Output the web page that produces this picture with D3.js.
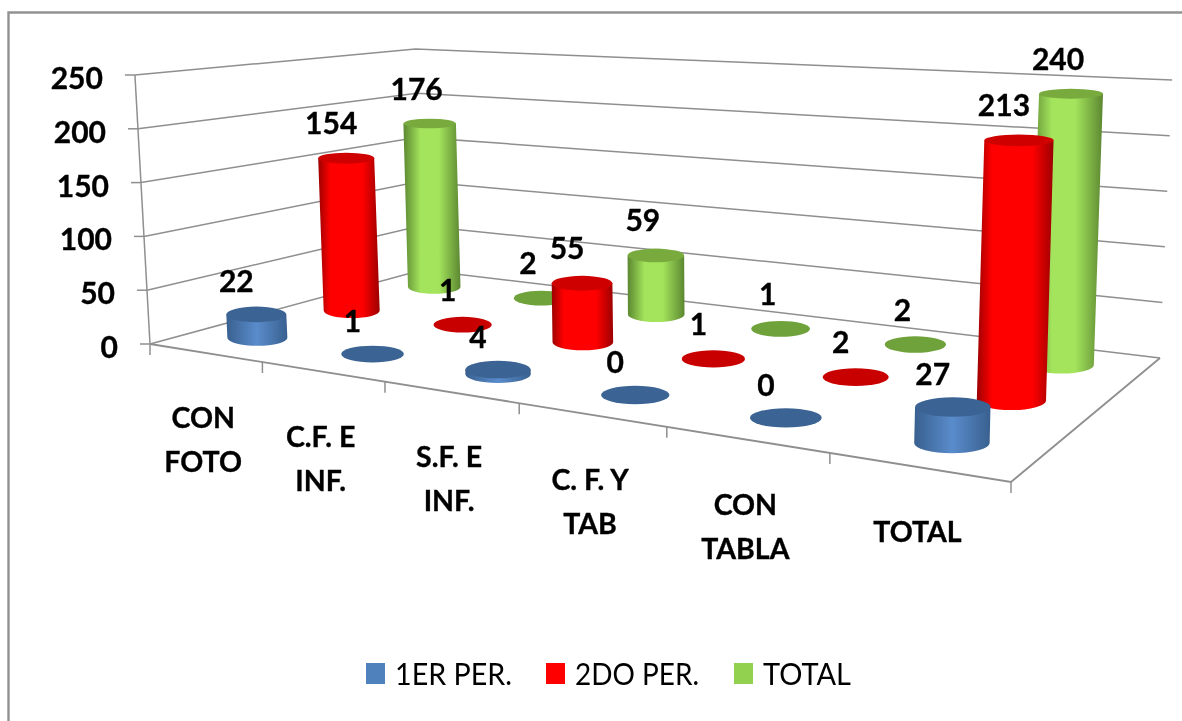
<!DOCTYPE html>
<html><head><meta charset="utf-8">
<script src="https://cdnjs.cloudflare.com/ajax/libs/d3/7.8.5/d3.min.js"></script>
<style>html,body{margin:0;padding:0;background:#fff}svg{display:block}text{font-family:Lato,"Open Sans",sans-serif;fill:#000}</style>
</head><body><svg id="c" width="1182" height="721"></svg>
<script>
const categories = [["CON","FOTO"],["C.F. E","INF."],["S.F. E","INF."],["C. F. Y","TAB"],["CON","TABLA"],["TOTAL"]];
const seriesNames = ["1ER PER.","2DO PER.","TOTAL"];
const firstPeriod = [22,1,4,0,0,27];
const secondPeriod = [154,1,55,1,2,213];
const totals = [176,2,59,1,2,240];
const yTicks = [0,50,100,150,200,250];

const svg = d3.select("#c");
const W = 1182, H = 721;

const seriesValues = [firstPeriod, secondPeriod, totals];
const palette = [
  {edge:"#38608f",mid:"#5a8ccc",top:"#3b6493",flat:"#3b6493",dx:-20,dy:-34,stops:[0.5,0.5]},
  {edge:"#9c0000",mid:"#ff0000",top:"#cf0000",flat:"#c90000",dx:-15,dy:-36,stops:[0.2,0.72]},
  {edge:"#5c8731",mid:"#a3e45c",top:"#78aa3e",flat:"#6fa23a",dx:-13,dy:-36,stops:[0.3,0.62]}
];

// scales for the three axes of the 3D box
const uScale = d3.scaleBand().domain(d3.range(categories.length)).range([0,1]);
const vScale = d3.scaleBand().domain(d3.range(seriesNames.length)).range([0,1]);
const hScale = d3.scaleLinear().domain([0,250]).range([0,1]);

function squareToQuad(q){
  const [[x0,y0],[x1,y1],[x2,y2],[x3,y3]] = q;
  const dx1=x1-x2,dx2=x3-x2,dy1=y1-y2,dy2=y3-y2,sx=x0-x1+x2-x3,sy=y0-y1+y2-y3;
  const det=dx1*dy2-dx2*dy1;
  const g=(sx*dy2-dx2*sy)/det,h=(dx1*sy-sx*dy1)/det;
  const a=x1-x0+g*x1,b=x3-x0+h*x3,c=x0,d=y1-y0+g*y1,e=y3-y0+h*y3,f=y0;
  const fn=(u,v)=>{const w=g*u+h*v+1;return [(a*u+b*v+c)/w,(d*u+e*v+f)/w];};
  fn.w=(u,v)=>g*u+h*v+1;
  return fn;
}
// floor corners: front-left, front-right, back-right, back-left
const floorH = squareToQuad([[150,344],[1011,482],[1160,358],[422,270]]);
const wallHeight = 269, vanish = [719,10500];
function project(u,v,val){
  const f=floorH(u,v), dy=wallHeight/floorH.w(u,v)*hScale(val);
  return [f[0]+(f[0]-vanish[0])*dy/(vanish[1]-f[1]), f[1]-dy];
}
const catU=i=>uScale(i)+uScale.bandwidth()/2, serV=s=>vScale(s)+vScale.bandwidth()/2;

const defs=svg.append("defs");
defs.append("filter").attr("id","soft").attr("x","-5%").attr("y","-5%").attr("width","110%").attr("height","110%")
  .append("feGaussianBlur").attr("stdDeviation",0.55);
palette.forEach((p,i)=>{
  const g=defs.append("linearGradient").attr("id","g"+i);
  [[0,p.edge],[p.stops[0],p.mid],[p.stops[1],p.mid],[1,p.edge]].forEach(([o,c])=>g.append("stop").attr("offset",o).attr("stop-color",c));
});

svg.append("rect").attr("width",W).attr("height",H).attr("fill","#fff");
svg.append("path").attr("d",`M8.5 ${H}V12.5H${W}`).attr("fill","none").attr("stroke","#929292").attr("stroke-width",2.4);

const plot=svg.append("g").attr("filter","url(#soft)");
const gridC="#8f8f8f";
const line=d3.line();
const boldText=(sel,size=30)=>sel.attr("font-size",size).attr("font-weight",700).attr("stroke","#000").attr("stroke-width",0.35);
// gridlines on walls
yTicks.forEach(t=>{
  plot.append("path").attr("d",line([project(0,0,t),project(0,1,t),project(1,1,t)]))
    .attr("fill","none").attr("stroke",gridC).attr("stroke-width",1.5);
  const p=project(0,0,t);
  plot.append("path").attr("d",line([[p[0]-10,p[1]],p])).attr("stroke",gridC).attr("stroke-width",1.5);
  plot.append("text").attr("x",p[0]-32).attr("y",p[1]+2).attr("text-anchor","end").attr("dominant-baseline","central")
    .call(boldText).text(t);
});
// left axis & floor outline
plot.append("path").attr("d",line([project(0,0,250),project(0,0,0)])).attr("fill","none").attr("stroke",gridC).attr("stroke-width",1.5);
plot.append("path").attr("d",line([project(0,0,0),project(1,0,0),project(1,1,0)])).attr("fill","none").attr("stroke",gridC).attr("stroke-width",1.8);
// category ticks
d3.range(categories.length+1).forEach(i=>{
  const p=floorH(i/categories.length,0);
  plot.append("path").attr("d",line([p,[p[0],p[1]+11]])).attr("stroke",gridC).attr("stroke-width",1.5);
});
// category labels
categories.forEach((lines,i)=>{
  const a=floorH(i/categories.length,0),b=floorH((i+1)/categories.length,0);
  const mx=(a[0]+b[0])/2,my=(a[1]+b[1])/2;
  lines.forEach((l,k)=>{
    plot.append("text").attr("x",mx-3).attr("y",my+64+k*44).attr("text-anchor","middle").attr("dominant-baseline","central")
      .call(boldText,28.5).text(l);
  });
});
// cylinders back to front
const rxBase=30, ryFloor=0.27, ryTop=0.15;
const ratio=d3.scaleLinear().domain([0,250]).range([ryFloor,ryTop]);
function ell(cx,cy,rx,ry){return `M${cx-rx} ${cy}A${rx} ${ry} 0 1 0 ${cx+rx} ${cy}A${rx} ${ry} 0 1 0 ${cx-rx} ${cy}Z`;}
[2,1,0].forEach(s=>{
  categories.forEach((_,i)=>{
    const val=seriesValues[s][i],u=catU(i),v=serV(s);
    const b=project(u,v,0),t=project(u,v,val);
    const rx=rxBase/floorH.w(u,v)*floorH.w(catU(0),serV(0)),ryB=rx*ryFloor,ryT=rx*ratio(val);
    const g=plot.append("g");
    if(val>=3){
      g.append("path").attr("d",`M${t[0]-rx} ${t[1]}L${b[0]-rx} ${b[1]}A${rx} ${ryB} 0 0 0 ${b[0]+rx} ${b[1]}L${t[0]+rx} ${t[1]}Z`)
        .attr("fill",`url(#g${s})`);
      g.append("path").attr("d",ell(t[0],t[1],rx,ryT)).attr("fill",palette[s].top);
    } else {
      g.append("path").attr("d",ell(t[0],t[1],rx,ryT)).attr("fill",palette[s].flat);
    }
  });
});
// value labels
[2,1,0].forEach(s=>{
  categories.forEach((_,i)=>{
    const val=seriesValues[s][i],t=project(catU(i),serV(s),val);
    plot.append("text").attr("x",t[0]+palette[s].dx).attr("y",t[1]+palette[s].dy)
      .attr("text-anchor","middle").attr("dominant-baseline","central").call(boldText).text(val);
  });
});
// legend
const legendStarts=[366,546,734], legendWidths=[117,124,88];
seriesNames.forEach((n,i)=>{
  plot.append("rect").attr("x",legendStarts[i]).attr("y",663).attr("width",19).attr("height",21).attr("fill",["#4f81bd","#ff0000","#92d050"][i]);
  plot.append("text").attr("x",legendStarts[i]+29).attr("y",685).attr("font-size",31)
    .attr("textLength",legendWidths[i]).attr("lengthAdjust","spacingAndGlyphs").text(n);
});
</script></body></html>
